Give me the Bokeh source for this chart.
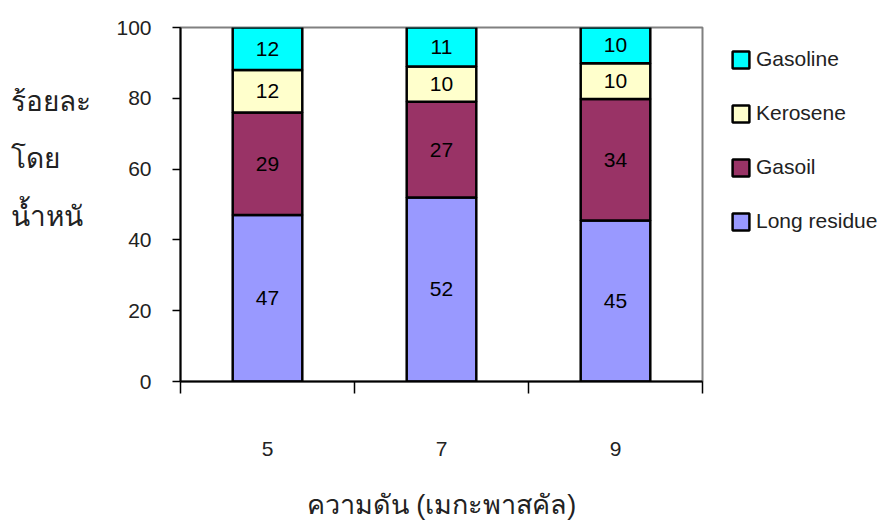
from bokeh.plotting import figure
from bokeh.layouts import row
from bokeh.models import (Range1d, FixedTicker, Legend, LegendItem, Label,
                          ColumnDataSource, LabelSet)
from bokeh.core.properties import value
from bokeh.embed import file_html
from bokeh.resources import INLINE

# Product yield (wt %) at each pressure
pressures = ["5", "7", "9"]
long_residue = [47, 52, 45]
gasoil = [29, 27, 34]
kerosene = [12, 10, 10]
gasoline = [12, 11, 10]

series_names = ["Long residue", "Gasoil", "Kerosene", "Gasoline"]
series_colors = ["#9999FF", "#993366", "#FFFFCC", "#00FFFF"]
y_ticks = [0, 20, 40, 60, 80, 100]
y_title_lines = ["ร้อยละ", "โดย", "น้ำหนั"]
x_title = "ความดัน (เมกะพาสคัล)"

FONT = "Liberation Sans"
INK = "#222222"
W, H = 884, 521
TITLE_W = 110
FRAME_TOP, FRAME_BOTTOM = 27, 381

series = [long_residue, gasoil, kerosene, gasoline]
totals = [sum(col) for col in zip(*series)]
# 100 % stacked: each segment is its share of the bar total
shares = [[v / t * 100.0 for v, t in zip(s, totals)] for s in series]

centers = [i + 0.5 for i in range(len(pressures))]
data = {"x": centers}
for name, sh in zip(series_names, shares):
    data[name] = sh
source = ColumnDataSource(data)

p = figure(frame_width=522, frame_height=FRAME_BOTTOM - FRAME_TOP,
           x_range=Range1d(0, len(pressures)), y_range=Range1d(0, 100),
           output_backend="svg", toolbar_location=None,
           min_border_left=180 - TITLE_W, min_border_right=182,
           min_border_top=FRAME_TOP, min_border_bottom=H - FRAME_BOTTOM,
           background_fill_color="white", border_fill_color="white")

p.grid.visible = False
p.outline_line_color = "#808080"
p.outline_line_width = 2

bars = p.vbar_stack(series_names, x="x", width=0.4, source=source,
                    fill_color=series_colors, line_color="black",
                    line_width=2.5)

# value labels in the middle of every segment
lab_x, lab_y, lab_t = [], [], []
base = [0.0] * len(pressures)
for raw, sh in zip(series, shares):
    for i in range(len(pressures)):
        lab_x.append(centers[i])
        lab_y.append(base[i] + sh[i] / 2)
        lab_t.append(str(raw[i]))
        base[i] += sh[i]
lab_src = ColumnDataSource(dict(x=lab_x, y=lab_y, t=lab_t))
p.add_layout(LabelSet(x="x", y="y", text="t", source=lab_src,
                      text_align="center", text_baseline="middle",
                      text_font=value(FONT), text_font_size=value("21px"),
                      text_color=value("black")))

# y axis
p.yaxis.ticker = FixedTicker(ticks=y_ticks)
p.yaxis.axis_line_color = "black"
p.yaxis.axis_line_width = 2
p.yaxis.major_tick_line_color = "black"
p.yaxis.major_tick_line_width = 1.5
p.yaxis.major_tick_out = 8
p.yaxis.major_tick_in = 0
p.yaxis.minor_tick_line_color = None
p.yaxis.major_label_standoff = 21
p.yaxis.major_label_text_font = FONT
p.yaxis.major_label_text_font_size = "21px"
p.yaxis.major_label_text_color = INK

# x axis: labels at bar centres, ticks at category boundaries
p.xaxis.ticker = FixedTicker(ticks=centers,
                             minor_ticks=list(range(len(pressures) + 1)))
p.xaxis.major_label_overrides = {c: lab for c, lab in zip(centers, pressures)}
p.xaxis.axis_line_color = "black"
p.xaxis.axis_line_width = 2
p.xaxis.major_tick_line_color = None
p.xaxis.major_tick_out = 0
p.xaxis.major_tick_in = 0
p.xaxis.minor_tick_line_color = "black"
p.xaxis.minor_tick_line_width = 1.5
p.xaxis.minor_tick_out = 12
p.xaxis.minor_tick_in = 0
p.xaxis.major_label_standoff = 48
p.xaxis.major_label_text_font = FONT
p.xaxis.major_label_text_font_size = "21px"
p.xaxis.major_label_text_color = INK
p.xaxis.axis_label = x_title
p.xaxis.axis_label_standoff = 31
p.xaxis.axis_label_text_font = FONT
p.xaxis.axis_label_text_font_size = "27px"
p.xaxis.axis_label_text_font_style = "normal"
p.xaxis.axis_label_text_color = INK

# legend, top entry first
items = [LegendItem(label=name, renderers=[r])
         for name, r in zip(series_names[::-1], bars[::-1])]
legend = Legend(items=items, location=(28, 148), margin=0, padding=0,
                glyph_width=21, glyph_height=21, label_standoff=5,
                spacing=30, label_height=20,
                label_text_font=FONT, label_text_font_size="21px",
                label_text_color=INK,
                border_line_color=None, background_fill_alpha=0)
p.add_layout(legend, "right")

# narrow strip on the left carrying the horizontal y title;
# its frame lines up with the chart frame, y runs in page pixels downward
t = figure(width=TITLE_W, height=H, x_range=Range1d(0, TITLE_W),
           y_range=Range1d(FRAME_BOTTOM, FRAME_TOP), min_border=0,
           x_axis_location=None, y_axis_location=None,
           output_backend="svg", toolbar_location=None,
           background_fill_color="white", border_fill_color="white")
t.grid.visible = False
t.outline_line_color = None
for line, y in zip(y_title_lines, [101, 158, 217]):
    t.add_layout(Label(x=10, y=y, text=line, text_font=FONT,
                       text_font_size="28px", text_baseline="alphabetic",
                       text_color=INK))

open("out.html", "w").write(file_html(row(t, p), INLINE))
